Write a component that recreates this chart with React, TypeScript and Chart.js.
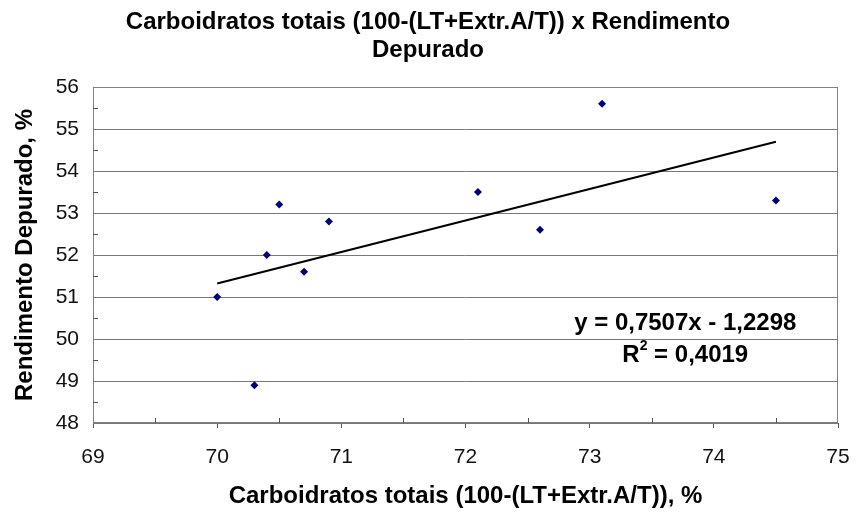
import React, { useEffect, useRef } from "react";
import { Chart, registerables } from "chart.js";

Chart.register(...registerables);

const titleLines = ["Carboidratos totais (100-(LT+Extr.A/T)) x Rendimento", "Depurado"];
const xAxisTitle = "Carboidratos totais (100-(LT+Extr.A/T)), %";
const yAxisTitle = "Rendimento Depurado, %";

const xValues = [70.0, 70.3, 70.4, 70.5, 70.7, 70.9, 72.1, 72.6, 73.1, 74.5];
const yValues = [51.0, 48.9, 52.0, 53.2, 51.6, 52.8, 53.5, 52.6, 55.6, 53.3];

const slope = 0.7507;
const intercept = -1.2298;
const trendX = [70.0, 74.5];
const equationText = "y = 0,7507x - 1,2298";
const r2Label = "R";
const r2Value = " = 0,4019";

const xMin = 69, xMax = 75, yMin = 48, yMax = 56;

const FONT = "'Liberation Sans', Arial, sans-serif";

const framePlugin = {
  id: "frame",
  beforeDatasetsDraw(chart: any) {
    const { ctx, chartArea: a, scales } = chart;
    ctx.save();
    ctx.strokeStyle = "#808080";
    ctx.lineWidth = 1;
    ctx.strokeRect(a.left + 0.5, a.top + 0.5, a.right - a.left - 1, a.bottom - a.top - 1);
    ctx.strokeStyle = "#555";
    for (let v = xMin + 0.5; v < xMax; v += 1) {
      const px = Math.round(scales.x.getPixelForValue(v)) + 0.5;
      ctx.beginPath();
      ctx.moveTo(px, a.bottom);
      ctx.lineTo(px, a.bottom - 5);
      ctx.stroke();
    }
    for (let v = yMin + 0.5; v < yMax; v += 1) {
      const py = Math.round(scales.y.getPixelForValue(v)) + 0.5;
      ctx.beginPath();
      ctx.moveTo(a.left, py);
      ctx.lineTo(a.left + 5, py);
      ctx.stroke();
    }
    ctx.restore();
  },
  afterDatasetsDraw(chart: any) {
    const { ctx, scales, width } = chart;
    ctx.save();
    ctx.fillStyle = "#000";
    ctx.font = `bold 24px ${FONT}`;
    ctx.textAlign = "center";
    ctx.textBaseline = "middle";
    // chart title
    ctx.fillText(titleLines[0], width / 2, 22);
    ctx.fillText(titleLines[1], width / 2, 50);
    // trendline equation
    const cx = scales.x.getPixelForValue(73.77);
    const y1 = scales.y.getPixelForValue(50.38);
    const y2 = scales.y.getPixelForValue(49.62);
    ctx.fillText(equationText, cx, y1);
    const wR = ctx.measureText(r2Label).width;
    const wV = ctx.measureText(r2Value).width;
    ctx.font = `bold 14px ${FONT}`;
    const wS = ctx.measureText("2").width;
    const total = wR + wS + wV;
    let sx = cx - total / 2;
    ctx.textAlign = "left";
    ctx.font = `bold 24px ${FONT}`;
    ctx.fillText(r2Label, sx, y2);
    sx += wR;
    ctx.font = `bold 14px ${FONT}`;
    ctx.fillText("2", sx, y2 - 9);
    sx += wS;
    ctx.font = `bold 24px ${FONT}`;
    ctx.fillText(r2Value, sx, y2);
    ctx.restore();
  },
};

export default function App() {
  const ref = useRef<HTMLCanvasElement | null>(null);
  useEffect(() => {
    if (!ref.current) return;
    const points = xValues.map((x, i) => ({ x, y: yValues[i] }));
    const trend = trendX.map((x) => ({ x, y: slope * x + intercept }));
    const chart = new Chart(ref.current, {
      type: "scatter",
      data: {
        datasets: [
          {
            label: "Trend",
            data: trend,
            showLine: true,
            borderColor: "#000",
            borderWidth: 2,
            pointRadius: 0,
            order: 2,
          } as any,
          {
            label: "Dados",
            data: points,
            pointStyle: "rectRot",
            pointRadius: 4,
            backgroundColor: "#000080",
            borderColor: "#000080",
            borderWidth: 0,
            order: 1,
          } as any,
        ],
      },
      options: {
        animation: false,
        responsive: false,
        layout: { padding: { top: 87, right: 18, left: 0, bottom: 0 } },
        plugins: {
          legend: { display: false },
          tooltip: { enabled: false },
          title: { display: false },
        },
        scales: {
          x: {
            type: "linear",
            min: xMin,
            max: xMax,
            afterFit: (s: any) => { s.height = 89; s.paddingLeft = 0; s.paddingRight = 0; },
            border: { display: false },
            grid: { drawOnChartArea: false, drawTicks: true, tickLength: 5, color: "#555" },
            ticks: { stepSize: 1, padding: 17, color: "#111", font: { family: FONT, size: 21 } },
            title: {
              display: true,
              text: xAxisTitle,
              color: "#000",
              font: { family: FONT, size: 24, weight: "bold" },
              padding: { top: 0, bottom: 1 },
            },
          },
          y: {
            type: "linear",
            min: yMin,
            max: yMax,
            afterFit: (s: any) => { s.width = 93; s.paddingTop = 0; s.paddingBottom = 0; },
            border: { display: false },
            grid: { drawOnChartArea: true, drawTicks: false, color: "#787878", lineWidth: 1 },
            ticks: { stepSize: 1, padding: 14, color: "#111", font: { family: FONT, size: 21 } },
            title: {
              display: true,
              text: yAxisTitle,
              color: "#000",
              font: { family: FONT, size: 24, weight: "bold" },
              padding: { top: 11, bottom: 0 },
            },
          },
        },
      },
      plugins: [framePlugin],
    });
    return () => chart.destroy();
  }, []);
  return (
    <div style={{ position: "fixed", left: 0, top: 0, width: 856, height: 512, background: "#fff" }}>
      <canvas ref={ref} width={856} height={512} style={{ display: "block" }} />
    </div>
  );
}
